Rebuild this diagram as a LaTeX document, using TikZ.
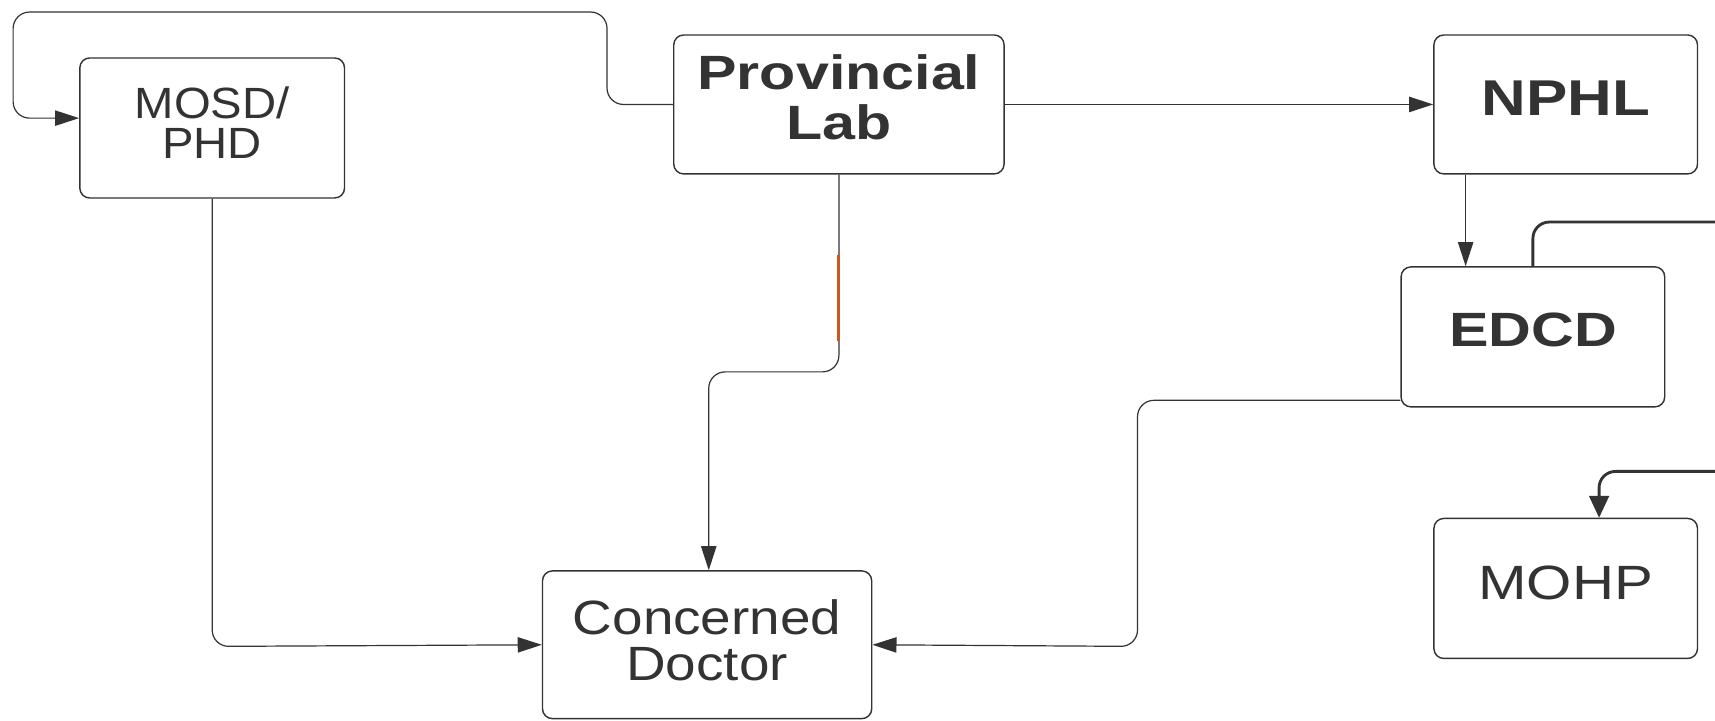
\documentclass[tikz,border=0pt]{standalone}
\usepackage{fontspec}
\setmainfont{Liberation Sans}[FakeStretch=1.08, BoldFeatures={FakeStretch=1.23}]
\newfontfamily\docfont{Liberation Sans}[FakeStretch=1.14]
\newfontfamily\mohpfont{Liberation Sans}[FakeStretch=1.21]
\usetikzlibrary{arrows.meta}
\definecolor{ink}{HTML}{333333}
\definecolor{orangeseg}{HTML}{C8581E}
\tikzset{
  box/.style={draw=ink, line width=1.3pt, rounded corners=9pt, inner sep=0pt},
  txt/.style={text=ink, align=center, inner sep=0pt},
  conn/.style={draw=ink, line width=1.1pt, rounded corners=15pt, -{Triangle[length=22pt,width=14pt]}},
  thickconn/.style={draw=ink, line width=2.6pt, rounded corners=15pt, -{Triangle[length=20pt,width=18pt]}},
}
\begin{document}
\begin{tikzpicture}[x=1pt,y=-1pt]
\clip (0,0) rectangle (1568,659);
\fill[white] (0,0) rectangle (1568,659);
% boxes
\node[box, minimum width=242pt, minimum height=128pt] (mosd) at (194,117) {};
\node[box, minimum width=302pt, minimum height=127pt] (prov) at (767,95.5) {};
\node[box, minimum width=241pt, minimum height=127pt] (nphl) at (1431.5,95.5) {};
\node[box, minimum width=241pt, minimum height=128pt] (edcd) at (1401.5,308) {};
\node[box, minimum width=241pt, minimum height=128pt] (mohp) at (1431.5,538) {};
\node[box, minimum width=301pt, minimum height=135pt] (doc) at (646.5,589.5) {};
% texts
\node[txt, font=\fontsize{40}{37}\selectfont] (tmosd) at (194,112) {MOSD/\\PHD};
\node[txt, font=\fontsize{44}{45}\selectfont\bfseries] (tprov) at (767,89) {Provincial\\Lab};
\node[txt, font=\fontsize{46}{46}\selectfont\bfseries] (tnphl) at (1431.5,90) {NPHL};
\node[txt, font=\fontsize{44}{44}\selectfont\bfseries] (tedcd) at (1401.5,302) {EDCD};
\node[txt, font=\mohpfont\fontsize{44}{44}\selectfont] (tmohp) at (1431.5,533) {MOHP};
\node[txt, font=\docfont\fontsize{44}{42}\selectfont] (tdoc) at (646.5,585) {Concerned\\Doctor};
% helper coordinates
\coordinate (e1) at ([xshift=-61.5pt]edcd.north);
\coordinate (m1) at ([xshift=30.5pt]mohp.north);
\coordinate (d1) at ([xshift=1.5pt]doc.north);
\coordinate (eout) at ([yshift=-58pt]edcd.west);
\coordinate (mosdin) at ([yshift=9pt]mosd.west);
% connectors
\draw[conn] (prov.west) -- (555,95.5) -- (555,11) -- (12,11) -- (12,108) -- (mosdin);
\draw[conn] (prov.east) -- (nphl.west);
\draw[conn] (e1 |- nphl.south) -- (e1);
\draw[thickconn] (edcd.north) -- (1401.5,203) -- (1620,203) -- (1620,431) -- (1462,431) -- (m1);
\draw[conn] (prov.south) -- (767,340) -- (648,340) -- (d1);
\draw[draw=orangeseg, line width=2.6pt] (767,233) -- (767,312);
\draw[conn] (mosd.south) -- (194,591) -- (doc.west);
\draw[conn] (eout) -- (1040,366) -- (1040,591) -- (doc.east);
\end{tikzpicture}
\end{document}
